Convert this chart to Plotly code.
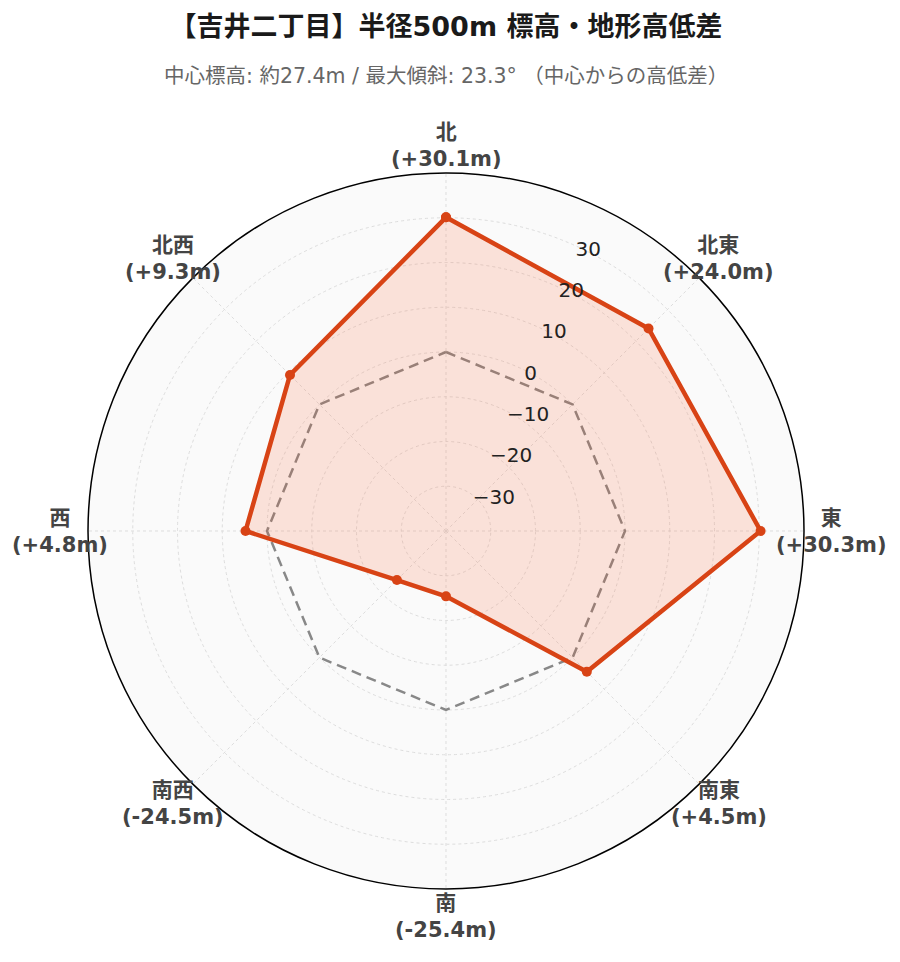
import math
import plotly.graph_objects as go

directions = ["北", "北東", "東", "南東", "南", "南西", "西", "北西"]
angles_deg = [0, 45, 90, 135, 180, 225, 270, 315]
elev_diff = [30.1, 24.0, 30.3, 4.5, -25.4, -24.5, 4.8, 9.3]
zero_ref = [0, 0, 0, 0, 0, 0, 0, 0]
radial_ticks = [-30, -20, -10, 0, 10, 20, 30]

title_text = "【吉井二丁目】半径500m 標高・地形高低差"
subtitle_text = "中心標高: 約27.4m / 最大傾斜: 23.3° （中心からの高低差）"

FONT = "DejaVu Sans, Noto Sans CJK JP, sans-serif"
W, H = 900, 962
ML, MR, MT, MB = 80, 104, 165, 81
plot_h = H - MT - MB
plot_w = W - ML - MR

theta_closed = directions + [directions[0]]

fig = go.Figure()
fig.add_trace(go.Scatterpolar(
    r=zero_ref + [zero_ref[0]], theta=theta_closed, mode="lines",
    line=dict(color="#888888", width=2.5, dash="10px,6px"),
    hoverinfo="skip", showlegend=False,
))
fig.add_trace(go.Scatterpolar(
    r=elev_diff + [elev_diff[0]], theta=theta_closed, mode="lines+markers",
    line=dict(color="#D84315", width=4.5),
    marker=dict(color="#D84315", size=10),
    fill="toself", fillcolor="rgba(255,87,34,0.15)",
    showlegend=False,
))

label_r = 0.539
annotations = []
for name, ang, v in zip(directions, angles_deg, elev_diff):
    a = math.radians(ang)
    annotations.append(dict(
        x=0.5 + label_r * math.sin(a), y=0.5 + label_r * math.cos(a),
        xref="paper", yref="paper", xanchor="center", yanchor="middle",
        text=f"<b>{name}</b><br><b>({v:+.1f}m)</b>", showarrow=False,
        font=dict(family=FONT, size=21, color="#444444"),
    ))
annotations.append(dict(
    x=0.5, y=(H - MB - 68) / plot_h, xref="paper", yref="paper",
    xanchor="center", yanchor="middle", text=subtitle_text, showarrow=False,
    font=dict(family=FONT, size=20.5, color="#666666"),
))

fig.update_layout(
    width=W, height=H,
    margin=dict(l=ML, r=MR, t=MT, b=MB),
    paper_bgcolor="white",
    font=dict(family=FONT),
    title=dict(text=f"<b>{title_text}</b>", x=0.5, xanchor="center", xref="paper",
               y=1 - 19 / H, yanchor="middle", yref="container",
               font=dict(family=FONT, size=27, color="#1a1a1a")),
    polar=dict(
        bgcolor="#fafafa",
        angularaxis=dict(rotation=90, direction="clockwise", showticklabels=False,
                         ticks="", showline=True, linecolor="black", linewidth=1.5,
                         showgrid=True, gridcolor="#dddddd", griddash="dot"),
        radialaxis=dict(range=[-40, 40], tickvals=radial_ticks, angle=67.5,
                        tickangle=67.5, side="clockwise",
                        showline=False, ticks="", showgrid=True,
                        gridcolor="#dddddd", griddash="dot",
                        tickfont=dict(family=FONT, size=20, color="#222222")),
    ),
    annotations=annotations,
)

fig.write_html("out.html")
